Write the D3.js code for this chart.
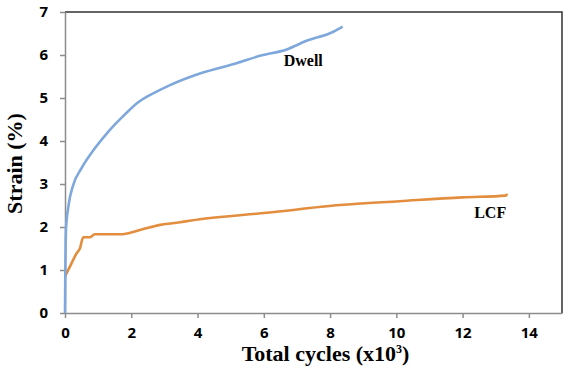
<!DOCTYPE html>
<html>
<head>
  <meta charset="utf-8">
  <title>Strain vs total cycles</title>
  <style>
    body { margin: 0; background: #fff; }
    .tick text { font-family: "Open Sans", "Liberation Sans", sans-serif; font-weight: bold; font-size: 15px; fill: #000; }
    .axis-title { font-family: "Liberation Serif", serif; font-weight: bold; font-size: 22px; fill: #000; }
    .series-label { font-family: "Liberation Serif", serif; font-weight: bold; font-size: 16px; fill: #000; }
  </style>
  <script src="https://cdn.jsdelivr.net/npm/d3@7"></script>
</head>
<body>
<script>
  // data (cycles in thousands, strain in %)
  var dwellCycles = [0, 0.01, 0.02, 0.03, 0.1, 0.25, 0.5, 0.9, 1.31, 1.81, 2.21, 2.72, 3.17, 4.07, 5.18, 5.88, 6.69, 7.29, 8.1, 8.38];
  var dwellStrain = [0, 1.0, 1.6, 1.95, 2.47, 2.98, 3.37, 3.83, 4.22, 4.62, 4.9, 5.13, 5.3, 5.57, 5.81, 5.98, 6.13, 6.33, 6.54, 6.66];
  var lcfCycles = [0, 0.2, 0.35, 0.45, 0.55, 0.75, 0.9, 1.66, 2.26, 2.87, 3.47, 4.07, 6.09, 8.3, 10.1, 12.0, 13.3, 13.35];
  var lcfStrain = [0.85, 1.16, 1.39, 1.5, 1.76, 1.76, 1.83, 1.83, 1.93, 2.05, 2.11, 2.18, 2.33, 2.51, 2.6, 2.69, 2.73, 2.77];
  var xTicks = [0, 2, 4, 6, 8, 10, 12, 14];
  var yTicks = [0, 1, 2, 3, 4, 5, 6, 7];

  var margin = {top: 12, right: 8, bottom: 65, left: 65},
      width = 570 - margin.left - margin.right,
      height = 378 - margin.top - margin.bottom;

  var x = d3.scaleLinear().domain([0, 15]).range([0, width]);
  var y = d3.scaleLinear().domain([0, 7]).range([height, 0]);

  var svg = d3.select("body").append("svg")
      .attr("width", 570)
      .attr("height", 378)
    .append("g")
      .attr("transform", "translate(" + margin.left + "," + margin.top + ")");

  // top and right frame
  svg.append("path")
      .attr("d", "M0,0H" + width + "V" + height)
      .attr("fill", "none")
      .attr("stroke", "#333")
      .attr("stroke-width", 1.5);

  // x axis
  var xAxis = svg.append("g")
      .attr("transform", "translate(0," + height + ")")
      .call(d3.axisBottom(x).tickValues(xTicks).tickFormat(d3.format("d"))
        .tickSize(5).tickPadding(9).tickSizeOuter(0));
  xAxis.select(".domain").attr("stroke", "#8c8c8c").attr("stroke-width", 1.5);
  xAxis.selectAll(".tick line").attr("stroke", "#8c8c8c").attr("stroke-width", 1.5);

  // y axis
  var yAxis = svg.append("g")
      .call(d3.axisLeft(y).tickValues(yTicks).tickFormat(d3.format("d"))
        .tickSize(5).tickPadding(12).tickSizeOuter(0));
  yAxis.select(".domain").attr("stroke", "#8c8c8c").attr("stroke-width", 1.5);
  yAxis.selectAll(".tick line").attr("stroke", "#8c8c8c").attr("stroke-width", 1.5);

  var line = d3.line()
      .x(function(d) { return x(d[0]); })
      .y(function(d) { return y(d[1]); })
      .curve(d3.curveMonotoneX);

  var dwell = dwellCycles.map(function(c, i) { return [c, dwellStrain[i]]; });
  var lcf = lcfCycles.map(function(c, i) { return [c, lcfStrain[i]]; });

  svg.append("path")
      .datum(lcf)
      .attr("fill", "none")
      .attr("stroke", "#e38d3e")
      .attr("stroke-width", 2.6)
      .attr("d", line);

  svg.append("path")
      .datum(dwell)
      .attr("fill", "none")
      .attr("stroke", "#7ea7dc")
      .attr("stroke-width", 2.6)
      .attr("d", line);

  // series labels
  svg.append("text")
      .attr("class", "series-label")
      .attr("x", x(6.6))
      .attr("y", y(5.75))
      .text("Dwell");
  svg.append("text")
      .attr("class", "series-label")
      .attr("x", x(12.35))
      .attr("y", y(2.2))
      .text("LCF");

  // axis titles
  var xTitle = svg.append("text")
      .attr("class", "axis-title")
      .attr("text-anchor", "middle")
      .attr("x", width / 2 + 12)
      .attr("y", height + 48)
      .text("Total cycles (x10");
  xTitle.append("tspan")
      .attr("font-size", "12px")
      .attr("dy", "-8")
      .text("3");
  xTitle.append("tspan")
      .attr("dy", "8")
      .text(")");

  svg.append("text")
      .attr("class", "axis-title")
      .attr("text-anchor", "middle")
      .attr("transform", "translate(-43," + (height / 2 + 1) + ") rotate(-90)")
      .text("Strain (%)");
</script>
</body>
</html>
